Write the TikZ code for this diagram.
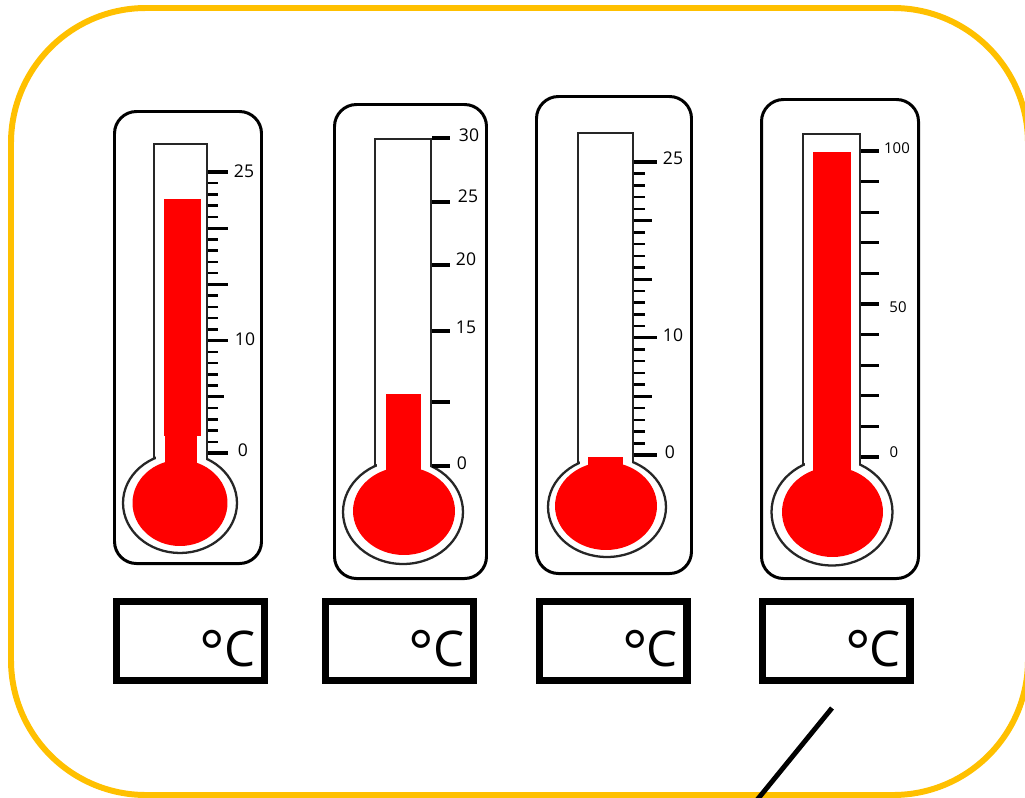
\documentclass[tikz,border=0pt]{standalone}
\usepackage{fontspec}
\setmainfont{Open Sans}
\usetikzlibrary{positioning}
\definecolor{framecol}{HTML}{FFC000}

\begin{document}
\begin{tikzpicture}[x=0.02cm, y=-0.02cm,
        frame/.style={draw=framecol, line width=3.4pt, rounded corners=2.7cm},
        case/.style={draw=black, line width=1.7pt, fill=white, rounded corners=0.44cm},
        glass/.style={draw=black!85, line width=1.3pt, fill=white},
        mercury/.style={fill=red},
        tick/.style={line width=1.4pt},
        bigtick/.style={line width=1.8pt},
        scalelabel/.style={inner sep=0pt, font=\fontsize{10}{12}\selectfont},
        smalllabel/.style={inner sep=0pt, font=\fontsize{8.5}{10}\selectfont},
        answer/.style={draw, line width=4pt, minimum width=2.96cm, minimum height=1.58cm, inner sep=0pt},
        unit/.style={inner sep=0pt, font=\fontsize{28}{30}\selectfont}]
        \clip (0,0) rectangle (1025,798);
        \draw[frame] (11,8) rectangle (1028,795);

        % cases
        \draw[case] (114.5,111.5) rectangle (261.5,563.5);
        \draw[case] (334.5,104.5) rectangle (486.5,578.5);
        \draw[case] (536.5,96.5) rectangle (691.5,573.5);
        \draw[case] (761.5,99.5) rectangle (918.5,578.5);

        % glass: tube and bulb
        \draw[glass] (154,144) rectangle (207,503);
        \draw[glass] (180,503) ellipse [x radius=1.14cm, y radius=1cm];
        \fill[white] (155.5,146) rectangle (205.5,503);
        \draw[glass] (375,139) rectangle (431,512);
        \draw[glass] (403,512) ellipse [x radius=1.2cm, y radius=1.04cm];
        \fill[white] (376.5,141) rectangle (429.5,512);
        \draw[glass] (578,133) rectangle (633,507);
        \draw[glass] (607,507) ellipse [x radius=1.18cm, y radius=1cm];
        \fill[white] (579.5,135) rectangle (631.5,507);
        \draw[glass] (803,134) rectangle (860,512);
        \draw[glass] (832,512) ellipse [x radius=1.21cm, y radius=1.07cm];
        \fill[white] (804.5,136) rectangle (858.5,512);

        % mercury
        \fill[mercury] (180,503) ellipse [x radius=0.95cm, y radius=0.86cm];
        \fill[mercury] (164,199) rectangle (201,436);
        \fill[mercury] (165,435) rectangle (197,475);
        \fill[mercury] (404,511) ellipse [x radius=1.02cm, y radius=0.88cm];
        \fill[mercury] (386,394) rectangle (421,480);
        \fill[mercury] (606,506) ellipse [x radius=1.02cm, y radius=0.88cm];
        \fill[mercury] (588,457) rectangle (623,480);
        \fill[mercury] (832.5,512) ellipse [x radius=1.01cm, y radius=0.9cm];
        \fill[mercury] (813,152) rectangle (851,480);

        % scales
        \foreach \v in {0,...,25}
            \draw[tick] (208,{453-11.24*\v}) -- ++(10,0);
        \foreach \v in {0,10,15,20,25}
            \draw[bigtick] (208,{453-11.24*\v}) -- ++(20,0);
        \draw[bigtick] (208,{453-11.24*5}) -- ++(16,0);
        \node[scalelabel] (a25) at (244,171) {25};
        \node[scalelabel] (a10) at (245,339) {10};
        \node[scalelabel] (a0) at (243,450) {0};

        \foreach \y in {138,202,265,331,402,466}
            \draw[bigtick] (432,\y) -- ++(18,0);
        \node[scalelabel] (b30) at (469,135) {30};
        \node[scalelabel] (b25) at (468,196) {25};
        \node[scalelabel] (b20) at (466,259) {20};
        \node[scalelabel] (b15) at (466,327) {15};
        \node[scalelabel] (b0) at (462,463) {0};

        \foreach \v in {0,...,25}
            \draw[tick] (634,{455-11.72*\v}) -- ++(11,0);
        \foreach \v in {5,15,20}
            \draw[bigtick] (634,{455-11.72*\v}) -- ++(18,0);
        \foreach \v in {0,10,25}
            \draw[bigtick] (634,{455-11.72*\v}) -- ++(23,0);
        \node[scalelabel] (c25) at (673,158) {25};
        \node[scalelabel] (c10) at (673,335) {10};
        \node[scalelabel] (c0) at (670,452) {0};

        \foreach \v in {0,...,10}
            \draw[bigtick] (861,{457-30.6*\v}) -- ++(18,0);
        \node[smalllabel] (d100) at (897,148) {100};
        \node[smalllabel] (d50) at (898,307) {50};
        \node[smalllabel] (d0) at (894,452) {0};

        % answer boxes
        \node[answer] (box1) at (190.5,641) {};
        \node[answer] (box2) at (399.5,641) {};
        \node[answer] (box3) at (613,641) {};
        \node[answer] (box4) at (836,641) {};
        \foreach \i in {1,...,4}
            \node[unit, anchor=east] (unit\i) at ([xshift=-0.25cm, yshift=-0.15cm]box\i.east)
            {\raisebox{-4pt}[20pt][0pt]{\fontsize{34}{34}\selectfont °}\kern-0.02em C};

        \coordinate (tailtop) at (832,708);
        \coordinate (tailend) at (757,800);
        \draw[line width=2.8pt] (tailtop) -- (tailend);
    \end{tikzpicture}
\end{document}
